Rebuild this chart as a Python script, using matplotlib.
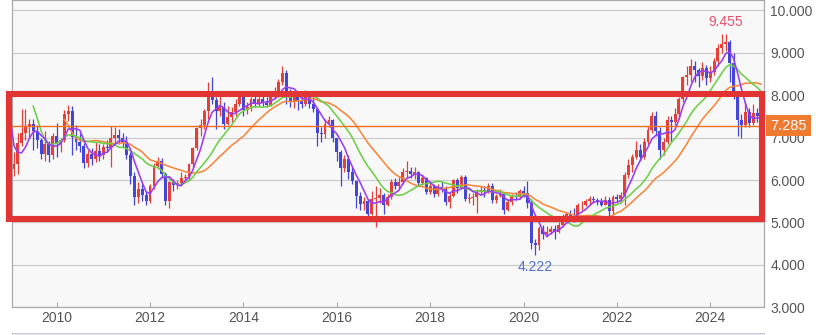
import numpy as np
import pandas as pd
import matplotlib
matplotlib.use('Agg')
import matplotlib.pyplot as plt
import matplotlib.dates as mdates
from matplotlib.patches import Rectangle

plt.rcParams['font.family'] = ['Liberation Sans', 'DejaVu Sans']

# monthly candles, Jul 2008 .. Feb 2025 (chart shows from Feb 2009)
months = pd.date_range('2008-07-01', '2025-02-01', freq='MS')
view_start = pd.Timestamp('2009-01-14')
view_end = pd.Timestamp('2025-02-24')

first_open = 10.30
closes = [
    10.55, 10.65, 9.75, 7.65, 7.15, 6.60,
    6.25, 6.39, 6.87, 7.10, 7.24, 7.31, 7.15, 6.95, 6.62, 6.85, 6.60, 7.05,
    6.85, 6.95, 7.55, 7.62, 7.02, 6.90, 6.80, 6.40, 6.62, 6.50, 6.68, 6.58,
    6.78, 6.76, 7.00, 7.06, 7.00, 6.90, 6.58, 6.10, 5.60, 5.78, 5.65, 5.50,
    5.86, 6.34, 6.45, 6.15, 5.50, 5.95, 5.88, 5.94, 6.05, 6.08, 6.37, 6.75,
    7.22, 7.30, 7.62, 7.97, 7.88, 7.62, 7.72, 7.32, 7.48, 7.60, 7.80, 8.00,
    7.65, 7.72, 7.90, 7.80, 7.92, 7.82, 7.78, 7.95, 8.10, 8.30, 8.52, 8.10,
    7.84, 8.00, 7.87, 7.80, 8.05, 7.80, 7.68, 7.12, 7.08, 7.32, 7.42, 6.98,
    6.65, 6.28, 6.50, 6.20, 5.98, 5.62, 5.44, 5.50, 5.20, 5.55, 5.58, 5.64,
    5.42, 5.60, 5.96, 5.86, 5.95, 6.20, 6.22, 6.15, 6.18, 5.94, 6.05, 5.72,
    5.87, 5.68, 5.84, 5.80, 5.48, 5.63, 6.00, 5.82, 6.08, 5.55, 5.58, 5.60,
    5.72, 5.76, 5.73, 5.87, 5.52, 5.62, 5.68, 5.30, 5.48, 5.62, 5.60, 5.74,
    5.70, 5.46, 4.52, 4.47, 4.87, 4.72, 4.78, 4.85, 4.78, 4.93, 5.15, 5.20,
    5.12, 5.10, 5.40, 5.42, 5.50, 5.56, 5.52, 5.48, 5.42, 5.54, 5.27, 5.60,
    5.55, 5.65, 6.12, 6.35, 6.55, 6.72, 6.54, 6.90, 7.18, 7.50, 7.15, 6.72,
    6.90, 7.42, 7.36, 7.56, 7.90, 8.43, 8.48, 8.70, 8.60, 8.45, 8.65, 8.40,
    8.55, 8.80, 9.12, 9.20, 9.25, 8.75, 8.02, 7.42, 7.30, 7.60, 7.35, 7.58,
    7.50, 7.285,
]
highs = [
    10.75, 10.90, 10.75, 9.90, 7.90, 7.20,
    6.75, 6.65, 7.12, 7.68, 7.68, 7.45, 7.45, 7.30, 7.00, 7.15, 6.92, 7.12,
    7.35, 7.00, 7.65, 7.78, 7.75, 7.30, 7.12, 6.88, 6.72, 6.75, 6.90, 6.85,
    6.85, 6.95, 7.27, 7.25, 7.20, 7.10, 7.05, 6.65, 6.20, 5.95, 5.90, 5.75,
    5.90, 6.40, 6.55, 6.52, 6.20, 5.98, 6.02, 6.00, 6.20, 6.15, 6.40, 6.78,
    7.25, 7.45, 7.68, 8.30, 8.44, 7.95, 8.00, 7.85, 7.75, 7.72, 7.90, 8.10,
    8.05, 7.85, 7.95, 7.98, 7.98, 7.98, 7.95, 8.00, 8.20, 8.38, 8.69, 8.60,
    8.15, 8.08, 8.10, 8.00, 8.12, 8.10, 7.95, 7.72, 7.25, 7.45, 7.50, 7.45,
    7.00, 6.70, 6.60, 6.60, 6.30, 6.00, 5.72, 5.60, 5.55, 5.75, 5.85, 5.82,
    5.70, 5.68, 6.02, 6.05, 6.08, 6.28, 6.44, 6.30, 6.30, 6.22, 6.12, 6.08,
    5.95, 5.90, 5.90, 5.95, 5.85, 5.70, 6.02, 6.05, 6.12, 6.12, 5.70, 5.70,
    5.78, 5.85, 5.85, 5.92, 5.92, 5.68, 5.80, 5.70, 5.55, 5.68, 5.72, 5.78,
    5.85, 5.98, 5.55, 4.60, 4.92, 4.95, 4.92, 4.92, 4.95, 5.00, 5.20, 5.25,
    5.30, 5.35, 5.45, 5.50, 5.55, 5.62, 5.62, 5.58, 5.58, 5.62, 5.60, 5.65,
    5.68, 5.72, 6.18, 6.50, 6.62, 6.92, 6.85, 6.98, 7.28, 7.60, 7.62, 7.25,
    7.00, 7.50, 7.52, 7.70, 7.95, 8.45, 8.70, 8.85, 8.80, 8.65, 8.78, 8.72,
    8.70, 8.88, 9.20, 9.44, 9.455, 9.30, 9.00, 8.10, 7.55, 7.85, 7.70, 7.80,
    7.70, 7.55,
]
lows = [
    10.20, 10.30, 9.40, 6.90, 6.70, 6.30,
    6.05, 6.10, 6.15, 6.80, 6.95, 7.00, 6.70, 6.75, 6.50, 6.45, 6.42, 6.50,
    6.55, 6.65, 6.90, 7.40, 6.60, 6.72, 6.65, 6.28, 6.30, 6.35, 6.42, 6.45,
    6.50, 6.65, 6.30, 6.85, 6.85, 6.78, 6.50, 5.90, 5.42, 5.45, 5.50, 5.40,
    5.45, 5.80, 6.25, 6.05, 5.42, 5.35, 5.75, 5.80, 5.88, 5.98, 6.00, 6.30,
    6.70, 7.05, 7.20, 7.45, 7.80, 7.20, 7.50, 7.20, 7.30, 7.38, 7.50, 7.75,
    7.50, 7.55, 7.62, 7.72, 7.75, 7.75, 7.72, 7.75, 7.92, 7.95, 8.25, 7.80,
    7.72, 7.70, 7.65, 7.70, 7.75, 7.70, 7.60, 6.80, 6.90, 7.00, 7.25, 6.90,
    6.45, 5.85, 6.20, 6.02, 5.90, 5.35, 5.30, 5.30, 5.05, 5.18, 4.90, 5.45,
    5.20, 5.38, 5.55, 5.78, 5.80, 5.90, 6.05, 6.05, 6.02, 5.85, 5.88, 5.68,
    5.68, 5.60, 5.62, 5.72, 5.40, 5.35, 5.60, 5.70, 5.78, 5.50, 5.45, 5.40,
    5.22, 5.65, 5.60, 5.70, 5.45, 5.45, 5.60, 5.20, 5.26, 5.42, 5.52, 5.55,
    5.60, 5.35, 4.38, 4.222, 4.35, 4.60, 4.65, 4.72, 4.62, 4.75, 4.90, 5.05,
    5.05, 5.02, 5.05, 5.30, 5.38, 5.42, 5.45, 5.40, 5.38, 5.40, 5.12, 5.20,
    5.48, 5.45, 5.42, 6.05, 6.20, 6.50, 6.45, 6.50, 6.85, 7.10, 7.05, 6.50,
    6.60, 6.85, 6.90, 7.30, 7.45, 7.85, 8.25, 8.30, 8.30, 8.20, 8.35, 8.25,
    8.30, 8.48, 8.70, 9.00, 9.05, 8.30, 7.90, 7.05, 7.00, 7.25, 7.25, 7.30,
    7.38, 7.20,
]
# FX months open where the previous month closed
opens = [first_open] + closes[:-1]

ma_periods = [5, 13, 21]
ma_colors = ['#9b3cf5', '#6ccf46', '#f5863c']
year_ticks = [2010, 2012, 2014, 2016, 2018, 2020, 2022, 2024]
y_ticks = [3, 4, 5, 6, 7, 8, 9, 10]

UP = '#e4403a'
DOWN = '#4545d8'

df = pd.DataFrame({'open': opens, 'high': highs, 'low': lows, 'close': closes}, index=months)
x = mdates.date2num(df.index.to_pydatetime())
up = df['close'] >= df['open']
colors = np.where(up, UP, DOWN)

fig = plt.figure(figsize=(8.19, 3.35), dpi=100)
ax = fig.add_axes([0.0143, 0.0827, 0.9185, 0.9173])
ax.set_facecolor('#f8f8f8')

# wicks and bodies
ax.vlines(x, df['low'], df['high'], colors=colors, lw=0.9, zorder=3)
body_lo = np.minimum(df['open'], df['close'])
body_h = np.maximum((df['close'] - df['open']).abs(), 0.02)
ax.bar(x, body_h, bottom=body_lo, width=23, color=colors, linewidth=0, zorder=4)

# moving averages
for p, c in zip(ma_periods[::-1], ma_colors[::-1]):
    ma = df['close'].rolling(p).mean()
    ax.plot(x, ma.values, color=c, lw=1.15, zorder=5)

# last price line and tag
last = df['close'].iloc[-1]
ax.axhline(last, color='#f07020', lw=1.0, zorder=6)
ax.annotate(f'{last:.3f}', xy=(1, last), xycoords=('axes fraction', 'data'),
            xytext=(4.5, 0), textcoords='offset points', ha='left', va='center',
            color='white', fontsize=10.5, annotation_clip=False, zorder=10,
            bbox=dict(boxstyle='square,pad=0.27', fc='#ef7a30', ec='none'))

# highest / lowest marks inside the shown range
shown = df[df.index >= view_start]
t_hi = shown['high'].idxmax()
t_lo = shown['low'].idxmin()
ax.annotate(f"{shown.loc[t_hi, 'high']:.3f}", xy=(mdates.date2num(t_hi), shown.loc[t_hi, 'high']),
            xytext=(0, 8.5), textcoords='offset points', ha='center', va='center',
            color='#e6506e', fontsize=10, zorder=10)
ax.annotate(f"{shown.loc[t_lo, 'low']:.3f}", xy=(mdates.date2num(t_lo), shown.loc[t_lo, 'low']),
            xytext=(0, -8), textcoords='offset points', ha='center', va='center',
            color='#5072cc', fontsize=10, zorder=10)

ax.set_xlim(mdates.date2num(view_start), mdates.date2num(view_end))
ax.set_ylim(3, 10.245)

ax.set_xticks([mdates.date2num(pd.Timestamp(f'{y}-01-01')) for y in year_ticks])
ax.set_xticklabels([str(y) for y in year_ticks])
ax.set_yticks(y_ticks)
ax.set_yticklabels([f'{v:.3f}' for v in y_ticks])

ax.yaxis.tick_right()
ax.tick_params(axis='y', length=0, pad=4.5, labelsize=10, labelcolor='#555555')
ax.tick_params(axis='x', direction='in', length=3.8, width=0.8, color='#aaaaaa',
               pad=3, labelsize=10, labelcolor='#555555')
ax.grid(axis='y', color='#cccccc', lw=0.9)
ax.set_axisbelow(True)
for s in ax.spines.values():
    s.set_color('#aaaaaa')
    s.set_linewidth(0.9)

# range strip under the chart
fig.add_artist(Rectangle((12 / 819, 0), 752 / 819, 2.5 / 335, transform=fig.transFigure,
                         fc='#e2e7f4', ec='#c8c8c8', lw=0.7))

# highlighted band
W, H = 819, 335
fig.add_artist(Rectangle((9 / W, 1 - 218.7 / H), 752.5 / W, 124.7 / H,
                         transform=fig.transFigure, fill=False, ec='#e33434',
                         lw=4.4, joinstyle='miter', zorder=20))

fig.savefig('out.png', dpi=100)
